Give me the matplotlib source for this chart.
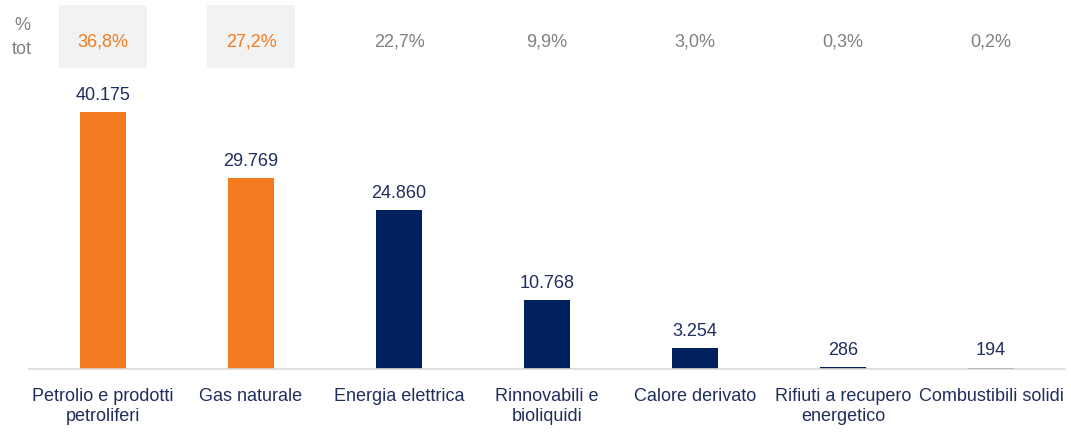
import matplotlib.pyplot as plt
from matplotlib.patches import Rectangle
from matplotlib.transforms import blended_transform_factory

plt.rcParams['font.family'] = ['Liberation Sans', 'DejaVu Sans']

categorie = ['Petrolio e prodotti\npetroliferi', 'Gas naturale', 'Energia elettrica',
             'Rinnovabili e\nbioliquidi', 'Calore derivato', 'Rifiuti a recupero\nenergetico',
             'Combustibili solidi']
valori = [40175, 29769, 24860, 10768, 3254, 286, 194]
etichette = ['40.175', '29.769', '24.860', '10.768', '3.254', '286', '194']
perc = ['36,8%', '27,2%', '22,7%', '9,9%', '3,0%', '0,3%', '0,2%']

arancio = '#F47B20'
blu = '#002060'
blu_testo = '#1F2E5E'
grigio = '#808080'
colori = [arancio, arancio, blu, blu, blu, blu, blu]
fs = 13

fig = plt.figure(figsize=(10.71, 4.36), dpi=100)
ax = fig.add_axes([0.0271, 0.1537, 0.9673, 0.6606])

x = list(range(len(valori)))
ax.bar(x, valori, width=0.31, color=colori)
ax.set_xlim(-0.5, 6.5)
ax.set_ylim(0, 45000)

for xi, v, t in zip(x, valori, etichette):
    ax.annotate(t, (xi, v), xytext=(0, 6), textcoords='offset points',
                ha='center', va='bottom', fontsize=fs, color=blu_testo)

ax.set_xticks(x)
ax.set_xticklabels(categorie, fontsize=fs, color=blu_testo, linespacing=1.2)
ax.tick_params(axis='x', length=0, pad=14)
ax.set_yticks([])
for s in ['top', 'left', 'right']:
    ax.spines[s].set_visible(False)
ax.spines['bottom'].set_color('#D9D9D9')
ax.spines['bottom'].set_linewidth(1.2)

# riga delle percentuali
tr = blended_transform_factory(ax.transData, fig.transFigure)
for i, p in enumerate(perc):
    c = arancio if i < 2 else grigio
    if i < 2:
        ax.add_patch(Rectangle((i - 0.295, 0.844), 0.59, 0.145, transform=tr,
                               facecolor='#F2F2F2', edgecolor='none', clip_on=False))
    ax.text(i, 0.904, p, transform=tr, ha='center', va='center', fontsize=fs, color=c)

fig.text(22 / 1071, 1 - 25 / 436, '%', ha='center', va='center', fontsize=fs, color=grigio)
fig.text(22 / 1071, 1 - 50 / 436, 'tot', ha='center', va='center', fontsize=fs, color=grigio)

fig.savefig('out.png', dpi=100)
